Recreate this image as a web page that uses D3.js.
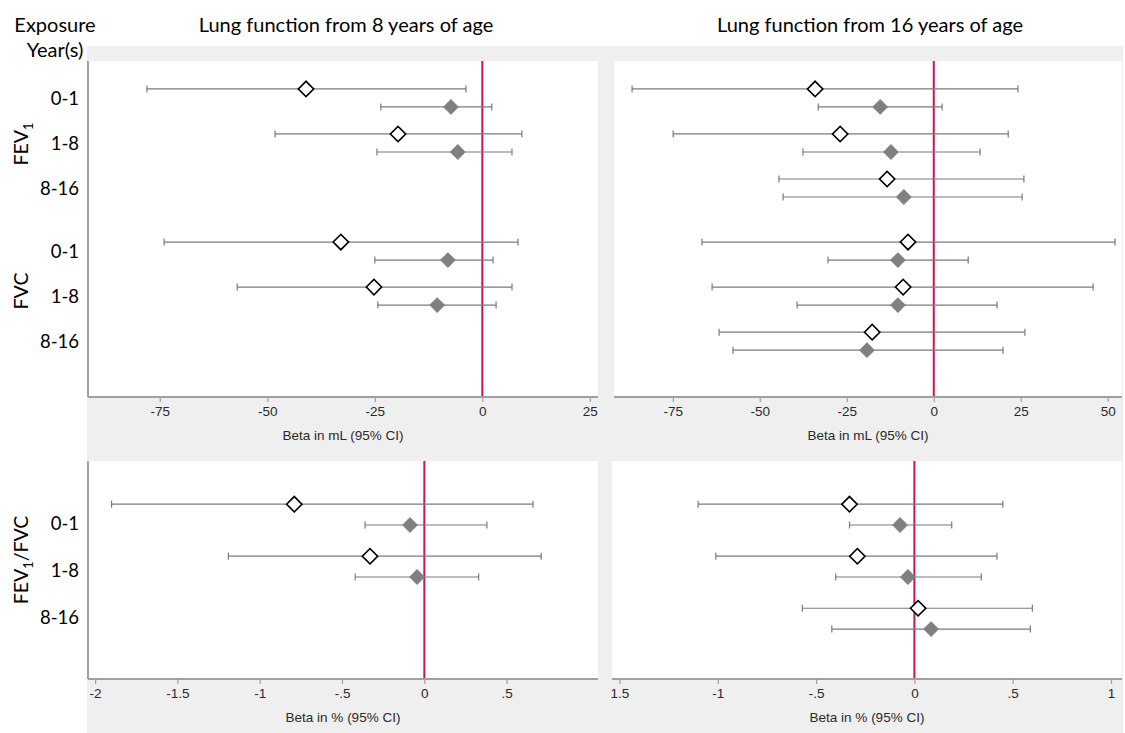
<!DOCTYPE html>
<html>
<head>
<meta charset="utf-8">
<script src="https://cdn.jsdelivr.net/npm/d3@7"></script>
<style>
  html, body { margin: 0; padding: 0; background: #fff; }
  svg { display: block; }
</style>
</head>
<body>
<svg id="chart" width="1125" height="733"></svg>
<script>
// Exposure windows (years) and outcome groups
const exposureWindows = ["0-1", "1-8", "8-16"];
const outcomeGroups = ["FEV1", "FVC"];

// Row slots for FEV1 / FVC panels (FEV1 0-1, 1-8, 8-16, FVC 0-1, 1-8, 8-16)
const volumeRowSlots = [1, 2, 3, 4.4, 5.4, 6.4];
// Row slots for FEV1/FVC ratio panels
const ratioRowSlots = [1, 2, 3];

// Lung function from 8 years of age, beta in mL (no 8-16 exposure)
const age8OpenEst  = [-41.0, -19.6, null, -32.9, -25.2, null];
const age8OpenLo   = [-78.0, -48.2, null, -74.0, -57.0, null];
const age8OpenHi   = [ -3.8,   9.2, null,   8.3,   6.9, null];
const age8FillEst  = [ -7.3,  -5.7, null,  -8.0, -10.5, null];
const age8FillLo   = [-23.6, -24.5, null, -25.0, -24.3, null];
const age8FillHi   = [  2.2,   6.9, null,   2.5,   3.2, null];

// Lung function from 16 years of age, beta in mL
const age16OpenEst = [-34.1, -26.9, -13.4,  -7.4,  -8.8, -17.7];
const age16OpenLo  = [-86.7, -74.9, -44.5, -66.6, -63.7, -61.7];
const age16OpenHi  = [ 24.2,  21.4,  25.9,  52.1,  45.8,  26.2];
const age16FillEst = [-15.4, -12.3,  -8.6, -10.3, -10.3, -19.2];
const age16FillLo  = [-33.2, -37.6, -43.3, -30.4, -39.3, -57.7];
const age16FillHi  = [  2.4,  13.3,  25.4,   9.9,  18.2,  19.9];

// FEV1/FVC from 8 years of age, beta in %
const ratio8OpenEst = [-0.79, -0.33, null];
const ratio8OpenLo  = [-1.90, -1.19, null];
const ratio8OpenHi  = [ 0.66,  0.71, null];
const ratio8FillEst = [-0.087, -0.044, null];
const ratio8FillLo  = [-0.36, -0.42, null];
const ratio8FillHi  = [ 0.38,  0.33, null];

// FEV1/FVC from 16 years of age, beta in %
const ratio16OpenEst = [-0.33, -0.29, 0.019];
const ratio16OpenLo  = [-1.10, -1.01, -0.57];
const ratio16OpenHi  = [ 0.45,  0.42,  0.60];
const ratio16FillEst = [-0.073, -0.033, 0.085];
const ratio16FillLo  = [-0.33, -0.40, -0.42];
const ratio16FillHi  = [ 0.19,  0.34,  0.59];

// Axis ticks and their labels
const mlTicks8 = [-75, -50, -25, 0, 25];
const mlTickLabels8 = ["-75", "-50", "-25", "0", "25"];
const mlTicks16 = [-75, -50, -25, 0, 25, 50];
const mlTickLabels16 = ["-75", "-50", "-25", "0", "25", "50"];
const pctTicks8 = [-2, -1.5, -1, -0.5, 0, 0.5];
const pctTickLabels8 = ["-2", "-1.5", "-1", "-.5", "0", ".5"];
const pctTicks16 = [-1.5, -1, -0.5, 0, 0.5, 1];
const pctTickLabels16 = ["1.5", "-1", "-.5", "0", ".5", "1"];

// Text
const columnTitles = ["Lung function from 8 years of age", "Lung function from 16 years of age"];
const mlAxisTitle = "Beta in mL (95% CI)";
const pctAxisTitle = "Beta in % (95% CI)";

// ---------------------------------------------------------------------------
const svg = d3.select("#chart");
const LABEL_FONT = "Lato, 'Open Sans', sans-serif";
const AXIS_FONT = "'Liberation Sans', Arial, sans-serif";
const PANEL_GRAY = "#efefef";
const AXIS_GRAY = "#a0a0a0";
const BAR_GRAY = "#7a7a7a";
const REF_RED = "#d0105e";

// Shared grey backdrop behind all four panels
svg.append("rect")
  .attr("x", 87).attr("y", 46).attr("width", 1036).attr("height", 687)
  .attr("fill", PANEL_GRAY);

function zip(est, lo, hi, slots) {
  return est.map((e, i) => ({ est: e, lo: lo[i], hi: hi[i], slot: slots[i] }))
            .filter(d => d.est !== null);
}

const panels = [
  { x: 88, y: 61, w: 510, h: 336, xDomain: [-91.7, 26.9], yDomain: [0.18, 7.64],
    ticks: mlTicks8, tickLabels: mlTickLabels8, title: mlAxisTitle, leftAxis: true,
    open: zip(age8OpenEst, age8OpenLo, age8OpenHi, volumeRowSlots),
    fill: zip(age8FillEst, age8FillLo, age8FillHi, volumeRowSlots) },
  { x: 614, y: 61, w: 508, h: 336, xDomain: [-91.9, 54.1], yDomain: [0.18, 7.64],
    ticks: mlTicks16, tickLabels: mlTickLabels16, title: mlAxisTitle, leftAxis: false,
    open: zip(age16OpenEst, age16OpenLo, age16OpenHi, volumeRowSlots),
    fill: zip(age16FillEst, age16FillLo, age16FillHi, volumeRowSlots) },
  { x: 88, y: 461, w: 510, h: 218, xDomain: [-2.043, 1.055], yDomain: [-0.03, 4.16],
    ticks: pctTicks8, tickLabels: pctTickLabels8, title: pctAxisTitle, leftAxis: true,
    open: zip(ratio8OpenEst, ratio8OpenLo, ratio8OpenHi, ratioRowSlots),
    fill: zip(ratio8FillEst, ratio8FillLo, ratio8FillHi, ratioRowSlots) },
  { x: 612, y: 461, w: 510, h: 218, xDomain: [-1.538, 1.056], yDomain: [-0.03, 4.16],
    ticks: pctTicks16, tickLabels: pctTickLabels16, title: pctAxisTitle, leftAxis: false,
    open: zip(ratio16OpenEst, ratio16OpenLo, ratio16OpenHi, ratioRowSlots),
    fill: zip(ratio16FillEst, ratio16FillLo, ratio16FillHi, ratioRowSlots) }
];

const OFFSET = 0.2; // vertical split between the two estimates of a row
const diamondOpen = d3.symbol().type(d3.symbolSquare).size(118)();
const diamondFill = d3.symbol().type(d3.symbolSquare).size(104)();

panels.forEach(p => {
  const g = svg.append("g").attr("transform", `translate(${p.x},${p.y})`);
  const x = d3.scaleLinear().domain(p.xDomain).range([0, p.w]);
  const y = d3.scaleLinear().domain(p.yDomain).range([0, p.h]);
  p.xScale = x; p.yScale = y;

  g.append("rect").attr("width", p.w).attr("height", p.h).attr("fill", "#fff");

  // Reference line at zero
  g.append("line")
    .attr("x1", x(0)).attr("x2", x(0)).attr("y1", 0).attr("y2", p.h)
    .attr("stroke", REF_RED).attr("stroke-width", 2);

  // Bottom axis
  const axis = d3.axisBottom(x)
    .tickValues(p.ticks)
    .tickFormat((d, i) => p.tickLabels[i])
    .tickSize(5).tickPadding(4).tickSizeOuter(0);
  const ax = g.append("g").attr("transform", `translate(0,${p.h})`).call(axis);
  ax.select(".domain").attr("stroke", AXIS_GRAY).attr("stroke-width", 2)
    .attr("d", `M0,0H${p.w}`);
  ax.selectAll(".tick line").attr("stroke", AXIS_GRAY).attr("stroke-width", 1.2);
  ax.selectAll(".tick text")
    .attr("font-family", AXIS_FONT).attr("font-size", 13.5).attr("fill", "#2a2a2a");

  g.append("text")
    .attr("x", p.w / 2).attr("y", p.h + 43)
    .attr("text-anchor", "middle")
    .attr("font-family", AXIS_FONT).attr("font-size", 13.5).attr("fill", "#2a2a2a")
    .text(p.title);

  if (p.leftAxis) {
    g.append("line").attr("x1", 0).attr("x2", 0).attr("y1", 0).attr("y2", p.h)
      .attr("stroke", AXIS_GRAY).attr("stroke-width", 2);
  }

  // Confidence intervals with end caps, then point estimates
  const series = [
    { data: p.open, dy: -OFFSET, kind: "open" },
    { data: p.fill, dy: OFFSET, kind: "fill" }
  ];
  series.forEach(s => {
    const bars = g.append("g");
    s.data.forEach(d => {
      const yy = y(d.slot + s.dy);
      bars.append("line").attr("x1", x(d.lo)).attr("x2", x(d.hi))
        .attr("y1", yy).attr("y2", yy)
        .attr("stroke", BAR_GRAY).attr("stroke-width", 1.2);
      [d.lo, d.hi].forEach(v => {
        bars.append("line").attr("x1", x(v)).attr("x2", x(v))
          .attr("y1", yy - 3.5).attr("y2", yy + 3.5)
          .attr("stroke", BAR_GRAY).attr("stroke-width", 1.2);
      });
    });
  });
  series.forEach(s => {
    g.append("g").selectAll("path").data(s.data).join("path")
      .attr("d", s.kind === "open" ? diamondOpen : diamondFill)
      .attr("transform", d => `translate(${x(d.est)},${y(d.slot + s.dy)}) rotate(45)`)
      .attr("fill", s.kind === "open" ? "#fff" : "#808080")
      .attr("stroke", s.kind === "open" ? "#000" : "#808080")
      .attr("stroke-width", s.kind === "open" ? 1.6 : 1);
  });
});

// Header text
const header = svg.append("g")
  .attr("font-family", LABEL_FONT).attr("font-size", 20).attr("fill", "#000");
header.append("text").attr("x", 55).attr("y", 32).attr("text-anchor", "middle").text("Exposure");
header.append("text").attr("x", 55).attr("y", 57).attr("text-anchor", "middle").text("Year(s)");
header.append("text").attr("x", 346).attr("y", 32).attr("text-anchor", "middle").text(columnTitles[0]);
header.append("text").attr("x", 870).attr("y", 32).attr("text-anchor", "middle").text(columnTitles[1]);

// Exposure window labels beside each row
const labels = svg.append("g")
  .attr("font-family", LABEL_FONT).attr("font-size", 18.5).attr("fill", "#000")
  .attr("text-anchor", "end");
const topY = panels[0].yScale, botY = panels[2].yScale;
volumeRowSlots.forEach((s, i) => {
  labels.append("text").attr("x", 79).attr("y", 61 + topY(s) + 7)
    .text(exposureWindows[i % 3]);
});
ratioRowSlots.forEach((s, i) => {
  labels.append("text").attr("x", 79).attr("y", 461 + botY(s) + 15 - i * 5)
    .text(exposureWindows[i]);
});

// Rotated outcome labels
function outcomeLabel(cx, cy, parts) {
  const t = svg.append("text")
    .attr("transform", `translate(${cx},${cy}) rotate(-90)`)
    .attr("text-anchor", "middle")
    .attr("font-family", LABEL_FONT).attr("font-size", 19.5).attr("fill", "#000");
  parts.forEach(([txt, sub]) => {
    const ts = t.append("tspan").text(txt);
    if (sub) ts.attr("font-size", 13).attr("dy", 5);
    else if (t.selectAll("tspan").size() > 1) ts.attr("dy", -5);
  });
}
outcomeLabel(28, 144, [["FEV"], ["1", true]]);
outcomeLabel(28, 291, [[outcomeGroups[1]]]);
outcomeLabel(28, 560, [["FEV"], ["1", true], ["/FVC"]]);
</script>
</body>
</html>
